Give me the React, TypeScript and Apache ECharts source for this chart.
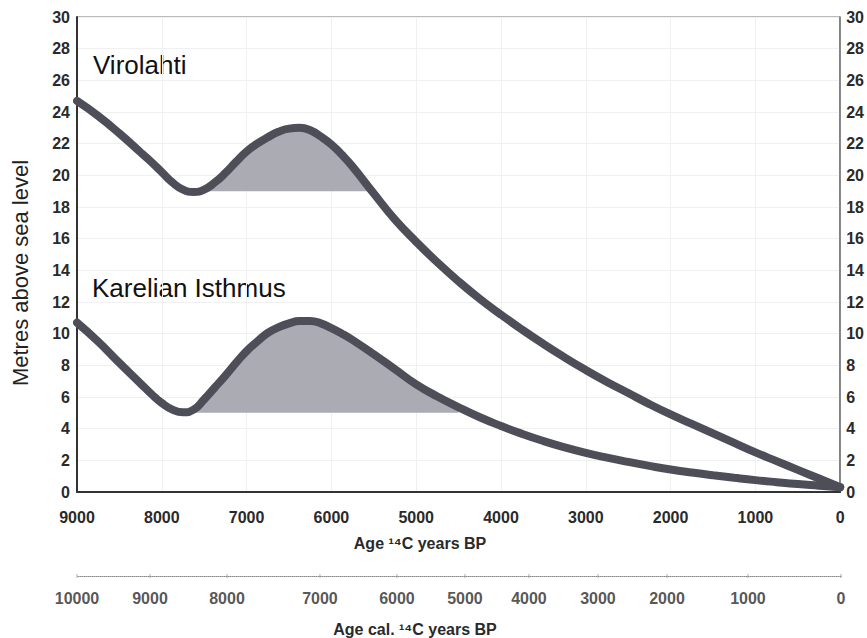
import React, { useEffect, useRef } from "react";
import * as echarts from "echarts";

// Ages (14C years BP) at which the curves were read
const AGES = [
  9000, 8750, 8500, 8250, 8125, 8000, 7875, 7750, 7625, 7500, 7375, 7250, 7125,
  7000, 6875, 6750, 6625, 6500, 6375, 6250, 6125, 6000, 5875, 5750, 5500, 5250,
  5000, 4750, 4500, 4250, 4000, 3750, 3500, 3250, 3000, 2750, 2500, 2250, 2000,
  1750, 1500, 1250, 1000, 750, 500, 250, 0,
];

// Virolahti shore level (m a.s.l.)
const VIROLAHTI = [
  24.7, 23.75, 22.65, 21.45, 20.85, 20.2, 19.55, 19.1, 18.95, 19.1, 19.55, 20.15, 20.85,
  21.5, 22.0, 22.4, 22.75, 22.95, 23.0, 22.85, 22.45, 21.95, 21.3, 20.55, 18.85, 17.2,
  15.8, 14.5, 13.3, 12.2, 11.2, 10.25, 9.35, 8.5, 7.7, 6.95, 6.25, 5.55, 4.9,
  4.3, 3.7, 3.1, 2.5, 1.95, 1.4, 0.85, 0.3,
];

// Karelian Isthmus shore level (m a.s.l.)
const KARELIAN = [
  10.7, 9.5, 8.15, 6.85, 6.2, 5.62, 5.2, 5.03, 5.2, 5.85, 6.6, 7.35, 8.15,
  8.9, 9.5, 10.05, 10.4, 10.65, 10.8, 10.8, 10.65, 10.35, 10.0, 9.6, 8.7, 7.75,
  6.8, 6.03, 5.35, 4.72, 4.17, 3.67, 3.22, 2.82, 2.47, 2.17, 1.9, 1.65, 1.42,
  1.23, 1.06, 0.9, 0.75, 0.62, 0.5, 0.4, 0.3,
];

// Transgression shading: base level and age range (from, to)
const VIRO_BASE = 19.0;
const VIRO_RANGE: [number, number] = [7625, 5500];
const KAR_BASE = 5.0;
const KAR_RANGE: [number, number] = [7750, 4500];

// Calibrated age axis: labels and their position in 14C years
const CAL_LABELS = ["10000", "9000", "8000", "7000", "6000", "5000", "4000", "3000", "2000", "1000", "0"];
const CAL_POS = [9000, 8140, 7233, 6138, 5231, 4430, 3676, 2863, 2050, 1096, 0];

const FONT = "Liberation Sans, Arial, sans-serif";

function pairs(vals: number[]) {
  return AGES.map((a, i) => [a, vals[i]]);
}
function shadePts(vals: number[], range: [number, number]) {
  return pairs(vals).filter(([x]) => x <= range[0] && x >= range[1]);
}

export default function App() {
  const ref = useRef<HTMLDivElement>(null);
  useEffect(() => {
    document.body.style.margin = "0";
    if (!ref.current) return;
    const chart = echarts.init(ref.current, undefined, { renderer: "svg" });
    const lineColor = "#4e4e59";
    const fillColor = "#ababb3";
    const labelStyle = { fontFamily: FONT, fontSize: 16, fontWeight: "bold", color: "#2a2a2a" };
    chart.setOption({
      animation: false,
      backgroundColor: "#fff",
      grid: [
        { left: 77, right: 26, top: 17, height: 475, show: true, borderColor: "#777", borderWidth: 1 },
        { left: 77, right: 26, top: 575, height: 1 },
      ],
      xAxis: [
        {
          type: "value", gridIndex: 0, min: 0, max: 9000, interval: 1000, inverse: true,
          axisLine: { show: true, onZero: false, lineStyle: { color: "#333", width: 2 } },
          axisTick: { show: false },
          axisLabel: { ...labelStyle, margin: 17, formatter: (v: number) => String(v) },
          splitLine: { show: true, lineStyle: { color: "#f0f0f0", width: 1 } },
        },
        {
          type: "value", gridIndex: 1, min: 0, max: 9000, inverse: true,
          axisLine: { show: true, onZero: false, lineStyle: { color: "#888", width: 1, type: "dotted" } },
          axisTick: { show: false },
          axisLabel: { show: false },
          splitLine: { show: false },
        },
      ],
      yAxis: [
        {
          type: "value", gridIndex: 0, min: 0, max: 30, interval: 2, position: "left",
          axisLine: { show: true, onZero: false, lineStyle: { color: "#333", width: 2 } },
          axisTick: { show: false },
          axisLabel: { ...labelStyle, margin: 7 },
          splitLine: { show: true, lineStyle: { color: "#f0f0f0", width: 1 } },
        },
        {
          type: "value", gridIndex: 0, min: 0, max: 30, interval: 2, position: "right",
          axisLine: { show: true, onZero: false, lineStyle: { color: "#666", width: 1.5 } },
          axisTick: { show: false },
          axisLabel: { ...labelStyle, margin: 6 },
          splitLine: { show: false },
        },
        { type: "value", gridIndex: 1, min: 0, max: 1, show: false },
      ],
      series: [
        {
          type: "line", xAxisIndex: 0, yAxisIndex: 0, data: shadePts(VIROLAHTI, VIRO_RANGE), smooth: true,
          symbol: "none", lineStyle: { opacity: 0 },
          areaStyle: { color: fillColor, opacity: 1, origin: VIRO_BASE }, z: 1, silent: true,
        },
        {
          type: "line", xAxisIndex: 0, yAxisIndex: 0, data: shadePts(KARELIAN, KAR_RANGE), smooth: true,
          symbol: "none", lineStyle: { opacity: 0 },
          areaStyle: { color: fillColor, opacity: 1, origin: KAR_BASE }, z: 1, silent: true,
        },
        {
          name: "Virolahti", type: "line", xAxisIndex: 0, yAxisIndex: 0, data: pairs(VIROLAHTI), smooth: true,
          symbol: "none", lineStyle: { color: lineColor, width: 8, cap: "round" }, z: 3,
        },
        {
          name: "Karelian Isthmus", type: "line", xAxisIndex: 0, yAxisIndex: 0, data: pairs(KARELIAN), smooth: true,
          symbol: "none", lineStyle: { color: lineColor, width: 8, cap: "round" }, z: 3,
        },
        {
          type: "scatter", xAxisIndex: 1, yAxisIndex: 2,
          data: CAL_POS.map((p, i) => ({ value: [p, 0], name: CAL_LABELS[i] })),
          symbol: "rect", symbolSize: [1, 4], itemStyle: { color: "#999" },
          label: {
            show: true, position: "bottom", distance: 12, formatter: "{b}",
            fontFamily: FONT, fontSize: 16, fontWeight: "bold", color: "#2a2a2a",
          },
          silent: true,
        },
      ],
      graphic: [
        { type: "text", left: 93, top: 52, style: { text: "Virolahti", font: `26px ${FONT}`, fill: "#111" } },
        { type: "text", left: 92, top: 275, style: { text: "Karelian Isthmus", font: `26px ${FONT}`, fill: "#111" } },
        {
          type: "text", x: 20, y: 273, rotation: Math.PI / 2,
          style: { text: "Metres above sea level", font: `22px ${FONT}`, fill: "#222", align: "center", verticalAlign: "middle" },
        },
        {
          type: "text", x: 420, y: 543,
          style: { text: "Age ¹⁴C years BP", font: `bold 16px ${FONT}`, fill: "#2a2a2a", align: "center", verticalAlign: "middle" },
        },
        {
          type: "text", x: 415, y: 629,
          style: { text: "Age cal. ¹⁴C years BP", font: `bold 16px ${FONT}`, fill: "#2a2a2a", align: "center", verticalAlign: "middle" },
        },
      ],
    });
    return () => chart.dispose();
  }, []);
  return <div ref={ref} style={{ width: 867, height: 638 }} />;
}
